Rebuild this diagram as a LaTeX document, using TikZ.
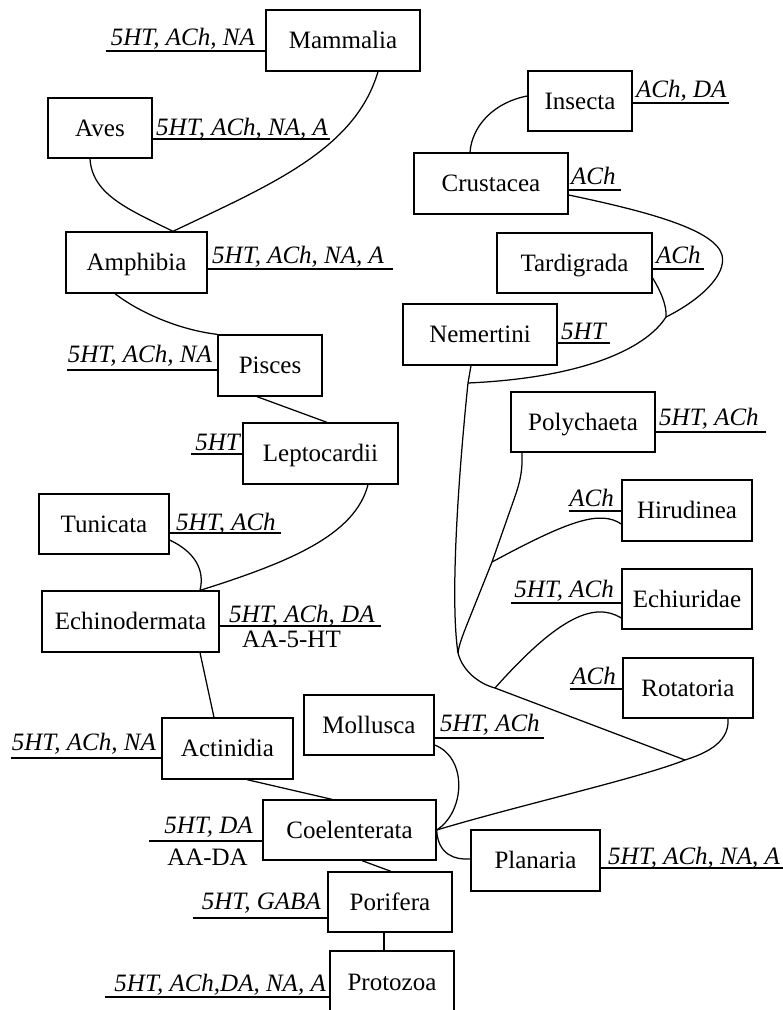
\documentclass[tikz,border=0pt]{standalone}
\usepackage{fontspec}
\setmainfont{Liberation Serif}
\tikzset{
  box/.style={draw, line width=1.3pt, inner sep=0pt, text height=16.5pt, text depth=0pt,
    font=\fontsize{25}{29}\selectfont},
  lab/.style={inner sep=0pt, font=\fontsize{25}{29}\selectfont\itshape},
  plain/.style={inner sep=0pt, font=\fontsize{25}{29}\selectfont},
  ln/.style={line width=1.3pt},
  cn/.style={line width=1.25pt}
}
\begin{document}
\begin{tikzpicture}[x=1pt,y=-1pt]
\clip (0,0) rectangle (783,1010);
% boxes
\node[box, minimum width=154pt, minimum height=61pt] (Mammalia) at (343,40.5) {Mammalia};
\node[box, minimum width=104pt, minimum height=60pt] (Aves) at (100,128) {Aves};
\node[box, minimum width=141pt, minimum height=61pt] (Amphibia) at (136.5,262.5) {Amphibia};
\node[box, minimum width=104pt, minimum height=61pt] (Pisces) at (270,365.5) {Pisces};
\node[box, minimum width=155pt, minimum height=61pt] (Leptocardii) at (320.5,453.5) {Leptocardii};
\node[box, minimum width=130pt, minimum height=60pt] (Tunicata) at (104,524) {Tunicata};
\node[box, minimum width=177pt, minimum height=61pt] (Echinodermata) at (130.5,621.5) {Echinodermata};
\node[box, minimum width=131pt, minimum height=61pt] (Actinidia) at (227.5,748.5) {Actinidia};
\node[box, minimum width=130pt, minimum height=60pt] (Mollusca) at (369,725) {Mollusca};
\node[box, minimum width=173pt, minimum height=60pt] (Coelenterata) at (349.5,830) {Coelenterata};
\node[box, minimum width=124pt, minimum height=60pt] (Porifera) at (390,902) {Porifera};
\node[box, minimum width=124pt, minimum height=62pt] (Protozoa) at (392,982) {Protozoa};
\node[box, minimum width=129pt, minimum height=61pt] (Planaria) at (535.5,860.5) {Planaria};
\node[box, minimum width=104pt, minimum height=60pt] (Insecta) at (580,101) {Insecta};
\node[box, minimum width=154pt, minimum height=61pt] (Crustacea) at (491,183.5) {Crustacea};
\node[box, minimum width=155pt, minimum height=60pt] (Tardigrada) at (574.5,263) {Tardigrada};
\node[box, minimum width=154pt, minimum height=61pt] (Nemertini) at (480,334.5) {Nemertini};
\node[box, minimum width=144pt, minimum height=60pt] (Polychaeta) at (583,422) {Polychaeta};
\node[box, minimum width=130pt, minimum height=61pt] (Hirudinea) at (687,510.5) {Hirudinea};
\node[box, minimum width=130pt, minimum height=60pt] (Echiuridae) at (687,599) {Echiuridae};
\node[box, minimum width=130pt, minimum height=60pt] (Rotatoria) at (688,688) {Rotatoria};

% label underlines and texts
\draw[ln] (Mammalia.west |- 0,51) -- (106,51);
\node[lab, anchor=base east] (lMammalia) at (255,45.5) {5HT, ACh, NA};
\draw[ln] (Aves.east |- 0,139) -- (330,139);
\node[lab, anchor=base west] (lAves) at (156,135) {5HT, ACh, NA, A};
\draw[ln] (Amphibia.east |- 0,269) -- (393,269);
\node[lab, anchor=base west] (lAmphibia) at (212,263) {5HT, ACh, NA, A};
\draw[ln] (Pisces.west |- 0,370) -- (67,370);
\node[lab, anchor=base east] (lPisces) at (212,362.5) {5HT, ACh, NA};
\draw[ln] (Leptocardii.west |- 0,454) -- (191,454);
\node[lab, anchor=base east] (lLeptocardii) at (240,450) {5HT};
\draw[ln] (Tunicata.east |- 0,533) -- (281,533);
\node[lab, anchor=base west] (lTunicata) at (176,530) {5HT, ACh};
\draw[ln] (Echinodermata.east |- 0,626) -- (381,626);
\node[lab, anchor=base west] (lEchinodermata) at (229,622) {5HT, ACh, DA};
\node[plain, anchor=base west] (lEchino2) at (242,647) {AA-5-HT};
\draw[ln] (Actinidia.west |- 0,758) -- (11,758);
\node[lab, anchor=base east] (lActinidia) at (156,750) {5HT, ACh, NA};
\draw[ln] (Mollusca.east |- 0,738) -- (544,738);
\node[lab, anchor=base west] (lMollusca) at (440,731) {5HT, ACh};
\draw[ln] (Coelenterata.west |- 0,841) -- (149,841);
\node[lab, anchor=base east] (lCoelenterata) at (253,833) {5HT, DA};
\node[plain, anchor=base east] (lCoel2) at (248,865) {AA-DA};
\draw[ln] (Porifera.west |- 0,918) -- (193,918);
\node[lab, anchor=base east] (lPorifera) at (321,909.5) {5HT, GABA};
\draw[ln] (Protozoa.west |- 0,997) -- (105,997);
\node[lab, anchor=base east] (lProtozoa) at (326,991) {5HT, ACh,DA, NA, A};
\draw[ln] (Planaria.east |- 0,868) -- (783,868);
\node[lab, anchor=base west] (lPlanaria) at (608,864) {5HT, ACh, NA, A};
\draw[ln] (Insecta.east |- 0,103) -- (729,103);
\node[lab, anchor=base west] (lInsecta) at (636,97.5) {ACh, DA};
\draw[ln] (Crustacea.east |- 0,190) -- (621,190);
\node[lab, anchor=base west] (lCrustacea) at (571,184) {ACh};
\draw[ln] (Tardigrada.east |- 0,269) -- (704,269);
\node[lab, anchor=base west] (lTardigrada) at (656,263) {ACh};
\draw[ln] (Nemertini.east |- 0,343) -- (610,343);
\node[lab, anchor=base west] (lNemertini) at (561,339.5) {5HT};
\draw[ln] (Polychaeta.east |- 0,432) -- (766,432);
\node[lab, anchor=base west] (lPolychaeta) at (659,425) {5HT, ACh};
\draw[ln] (Hirudinea.west |- 0,511) -- (569,511);
\node[lab, anchor=base east] (lHirudinea) at (614,506.5) {ACh};
\draw[ln] (Echiuridae.west |- 0,603) -- (511,603);
\node[lab, anchor=base east] (lEchiuridae) at (614,597) {5HT, ACh};
\draw[ln] (Rotatoria.west |- 0,689) -- (570,689);
\node[lab, anchor=base east] (lRotatoria) at (616,684) {ACh};

% junction coordinates
\coordinate (J1) at (685,760);
\coordinate (J2) at (468,383);
\coordinate (J3) at (666,317);
\coordinate (J4) at (495,688);
\coordinate (J5) at (492,562);
\coordinate (J6) at (458,653);

% connectors: vertebrate side
\draw[cn] ([xshift=35pt]Mammalia.south) .. controls (355,150) and (270,185) .. ([xshift=36.5pt]Amphibia.north);
\draw[cn] ([xshift=-10pt]Aves.south) .. controls (92,195) and (130,210) .. ([xshift=36.5pt]Amphibia.north);
\draw[cn] ([xshift=-21.5pt]Amphibia.south) .. controls (140,313) and (180,330) .. (Pisces.north west);
\draw[cn] ([xshift=-13pt]Pisces.south) -- ([xshift=6.5pt]Leptocardii.north);
\draw[cn] ([xshift=47.5pt]Leptocardii.south) .. controls (355,535) and (290,562) .. ([xshift=69.5pt]Echinodermata.north);
\draw[cn] ([yshift=-16pt]Tunicata.east) .. controls (195,552) and (205,570) .. ([xshift=69.5pt]Echinodermata.north);
\draw[cn] ([xshift=69.5pt]Echinodermata.south) -- ([xshift=-13.5pt]Actinidia.north);
\draw[cn] ([xshift=19.5pt]Actinidia.south) -- ([xshift=-17.5pt]Coelenterata.north);
\draw[cn] ([xshift=12.5pt]Coelenterata.south) -- ([xshift=1pt]Porifera.north);
\draw[cn] ([xshift=-6pt]Porifera.south) -- ([xshift=-8pt]Protozoa.north);
\draw[cn] ([yshift=-20pt]Mollusca.east) .. controls (468,758) and (465,812) .. (Coelenterata.east);
\draw[cn] (Coelenterata.east) .. controls (438,855) and (455,860) .. ([yshift=1.5pt]Planaria.west);

% invertebrate side
\draw[cn] ([xshift=40pt]Rotatoria.south) .. controls (730,745) and (700,755) .. (J1)
  .. controls (640,778) and (520,805) .. (Coelenterata.east);
\draw[cn] ([yshift=5pt]Insecta.west) .. controls (495,102) and (472,125) .. ([xshift=-21pt]Crustacea.north);
\draw[cn] ([yshift=-11.5pt]Crustacea.east) .. controls (650,212) and (715,230) .. (722,255)
  .. controls (727,275) and (700,300) .. (J3);
\draw[cn] ([yshift=-15pt]Tardigrada.east) .. controls (660,290) and (667,305) .. (J3);
\draw[cn] (J3) .. controls (645,350) and (580,378) .. (J2);
\draw[cn] ([xshift=-9pt]Nemertini.south) -- (J2);
\draw[cn] (J2) .. controls (458,480) and (450,600) .. (J6)
  .. controls (463,672) and (480,684) .. (J4) -- (J1);
\draw[cn] ([xshift=-61pt]Polychaeta.south) .. controls (523,475) and (518,488) .. (512,505)
  -- (J5) -- (468,622) .. controls (462,637) and (459,645) .. (J6);
\draw[cn] ([yshift=-13.5pt]Hirudinea.west) .. controls (600,510) and (570,520) .. (J5);
\draw[cn] ([yshift=-19pt]Echiuridae.west) .. controls (595,602) and (560,615) .. (J4);
\end{tikzpicture}
\end{document}
